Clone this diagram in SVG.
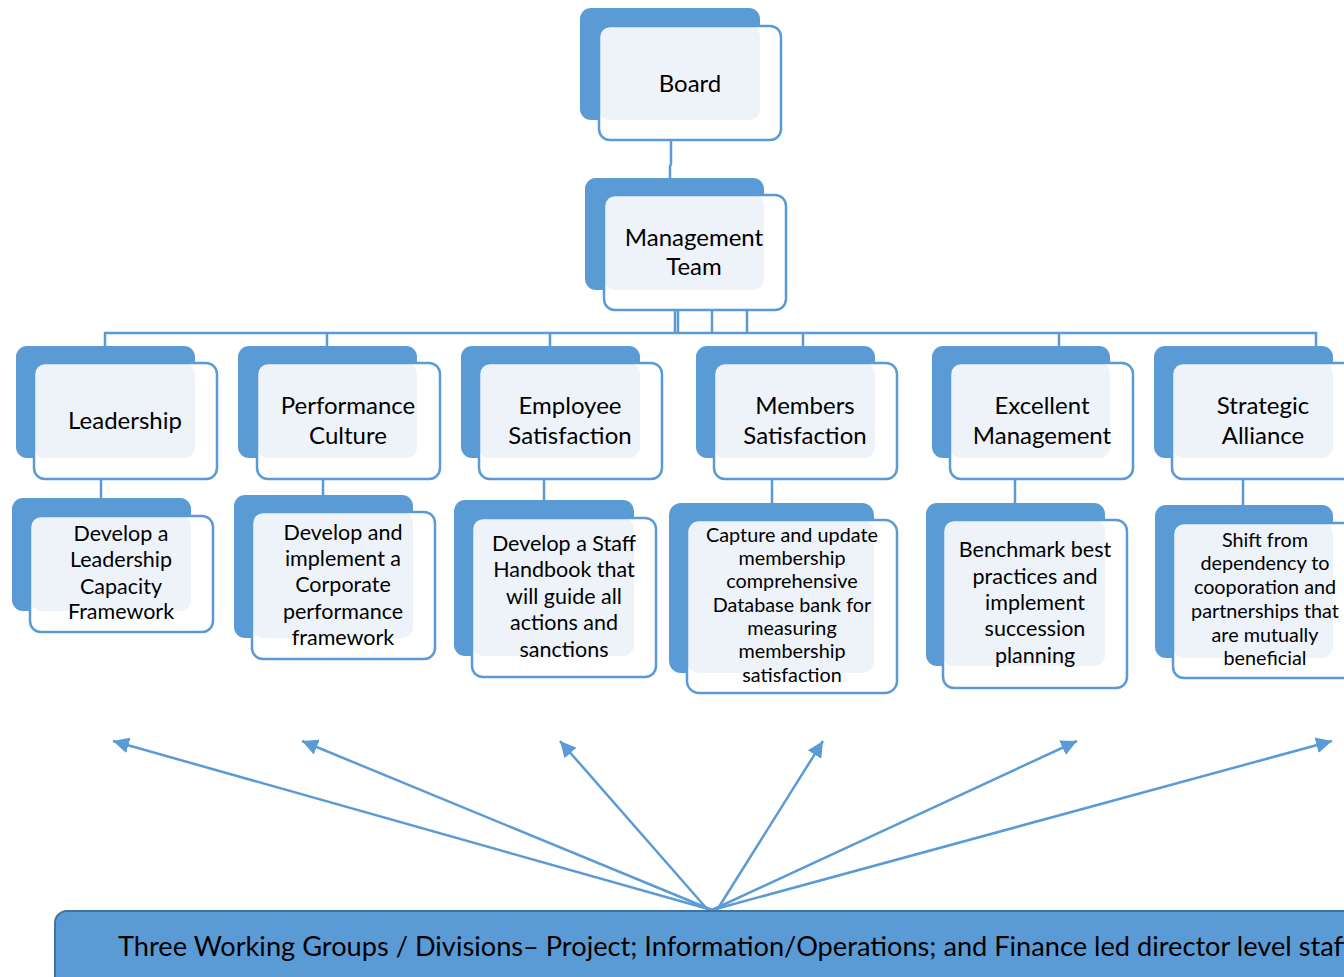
<svg xmlns="http://www.w3.org/2000/svg" width="1344" height="977" viewBox="0 0 1344 977">
<defs>
<style>
.back{fill:#5B9BD5}
.fbg{fill:#FFFFFF}
.lt{fill:#EEF3FA}
.fl{fill:none;stroke:#5B9BD5;stroke-width:2.5}
.t{font-family:Lato,"Open Sans",sans-serif;fill:#000;text-anchor:middle}
.l1{font-size:24px}
.l2{font-size:21.5px}
.l3{font-size:19.8px}
.cn{fill:none;stroke:#5B9BD5;stroke-width:2.5}
.fa{fill:none;stroke:#DCE6F2;stroke-width:2.5}
.ar{fill:none;stroke:#5B9BD5;stroke-width:2.5}
</style>
<marker id="ah" markerUnits="userSpaceOnUse" markerWidth="18" markerHeight="16" refX="16" refY="8" orient="auto">
<path d="M0,0 L16,8 L0,16 z" fill="#5B9BD5"/>
</marker>
</defs>
<rect width="1344" height="977" fill="#FFFFFF"/>

<g id="connectors">
<line class="fa" x1="671" y1="122" x2="671" y2="140"/>
<path class="cn" d="M671,140 V164 L670,166 V178"/>
<line class="fa" x1="675" y1="292" x2="675" y2="309"/>
<line class="fa" x1="678" y1="292" x2="678" y2="309"/>
<line class="fa" x1="712" y1="292" x2="712" y2="309"/>
<line class="fa" x1="747" y1="292" x2="747" y2="309"/>
<line class="cn" x1="675" y1="309" x2="675" y2="333"/>
<line class="cn" x1="678" y1="309" x2="678" y2="333"/>
<line class="cn" x1="712" y1="309" x2="712" y2="333"/>
<line class="cn" x1="747" y1="309" x2="747" y2="333"/>
<path class="cn" d="M105,346 V333 H1316 V346"/>
<line class="cn" x1="327" y1="333" x2="327" y2="346"/>
<line class="cn" x1="550" y1="333" x2="550" y2="346"/>
<line class="cn" x1="803" y1="333" x2="803" y2="346"/>
<line class="cn" x1="1059" y1="333" x2="1059" y2="346"/>
<line class="fa" x1="101" y1="460" x2="101" y2="478"/>
<line class="fa" x1="323" y1="460" x2="323" y2="478"/>
<line class="fa" x1="544" y1="460" x2="544" y2="478"/>
<line class="fa" x1="772" y1="460" x2="772" y2="478"/>
<line class="fa" x1="1015" y1="460" x2="1015" y2="478"/>
<line class="fa" x1="1243" y1="460" x2="1243" y2="478"/>
<line class="cn" x1="101" y1="478" x2="101" y2="498"/>
<line class="cn" x1="323" y1="478" x2="323" y2="495"/>
<line class="cn" x1="544" y1="478" x2="544" y2="500"/>
<line class="cn" x1="772" y1="478" x2="772" y2="503"/>
<line class="cn" x1="1015" y1="478" x2="1015" y2="503"/>
<line class="cn" x1="1243" y1="478" x2="1243" y2="505"/>
<line class="ar" x1="712" y1="910" x2="113" y2="741" marker-end="url(#ah)"/>
<line class="ar" x1="712" y1="910" x2="302" y2="741" marker-end="url(#ah)"/>
<line class="ar" x1="708" y1="910" x2="560" y2="741" marker-end="url(#ah)"/>
<line class="ar" x1="717" y1="910" x2="823" y2="741" marker-end="url(#ah)"/>
<line class="ar" x1="712" y1="910" x2="1077" y2="741" marker-end="url(#ah)"/>
<line class="ar" x1="712" y1="910" x2="1332" y2="741" marker-end="url(#ah)"/>
</g>

<g id="board">
<rect class="back" x="580" y="8" width="180" height="112" rx="11"/>
<rect class="fbg" x="599" y="26" width="182" height="114" rx="11"/>
<rect class="lt" x="599" y="26" width="161" height="94" rx="11"/>
<rect class="fl" x="599" y="26" width="182" height="114" rx="11"/>
<text class="t l1" x="690" y="92">Board</text>
</g>

<g id="management-team">
<rect class="back" x="585" y="178" width="179" height="112" rx="11"/>
<rect class="fbg" x="604" y="195" width="182" height="115" rx="11"/>
<rect class="lt" x="604" y="195" width="160" height="95" rx="11"/>
<rect class="fl" x="604" y="195" width="182" height="115" rx="11"/>
<text class="t l1" x="694" y="246">Management</text>
<text class="t l1" x="694" y="275">Team</text>
</g>

<g id="leadership">
<rect class="back" x="16" y="346" width="179" height="112" rx="11"/>
<rect class="fbg" x="34" y="363" width="183" height="116" rx="11"/>
<rect class="lt" x="34" y="363" width="161" height="95" rx="11"/>
<rect class="fl" x="34" y="363" width="183" height="116" rx="11"/>
<text class="t l1" x="125" y="429">Leadership</text>
</g>

<g id="performance-culture">
<rect class="back" x="238" y="346" width="179" height="112" rx="11"/>
<rect class="fbg" x="257" y="363" width="183" height="116" rx="11"/>
<rect class="lt" x="257" y="363" width="160" height="95" rx="11"/>
<rect class="fl" x="257" y="363" width="183" height="116" rx="11"/>
<text class="t l1" x="348" y="414">Performance</text>
<text class="t l1" x="348" y="444">Culture</text>
</g>

<g id="employee-satisfaction">
<rect class="back" x="461" y="346" width="179" height="112" rx="11"/>
<rect class="fbg" x="479" y="363" width="183" height="116" rx="11"/>
<rect class="lt" x="479" y="363" width="161" height="95" rx="11"/>
<rect class="fl" x="479" y="363" width="183" height="116" rx="11"/>
<text class="t l1" x="570" y="414">Employee</text>
<text class="t l1" x="570" y="444">Satisfaction</text>
</g>

<g id="members-satisfaction">
<rect class="back" x="696" y="346" width="179" height="112" rx="11"/>
<rect class="fbg" x="714" y="363" width="183" height="116" rx="11"/>
<rect class="lt" x="714" y="363" width="161" height="95" rx="11"/>
<rect class="fl" x="714" y="363" width="183" height="116" rx="11"/>
<text class="t l1" x="805" y="414">Members</text>
<text class="t l1" x="805" y="444">Satisfaction</text>
</g>

<g id="excellent-management">
<rect class="back" x="932" y="346" width="178" height="112" rx="11"/>
<rect class="fbg" x="950" y="363" width="183" height="116" rx="11"/>
<rect class="lt" x="950" y="363" width="160" height="95" rx="11"/>
<rect class="fl" x="950" y="363" width="183" height="116" rx="11"/>
<text class="t l1" x="1042" y="414">Excellent</text>
<text class="t l1" x="1042" y="444">Management</text>
</g>

<g id="strategic-alliance">
<rect class="back" x="1154" y="346" width="179" height="112" rx="11"/>
<rect class="fbg" x="1172" y="363" width="183" height="116" rx="11"/>
<rect class="lt" x="1172" y="363" width="161" height="95" rx="11"/>
<rect class="fl" x="1172" y="363" width="183" height="116" rx="11"/>
<text class="t l1" x="1263" y="414">Strategic</text>
<text class="t l1" x="1263" y="444">Alliance</text>
</g>

<g id="leadership-capacity">
<rect class="back" x="12" y="498" width="179" height="113" rx="11"/>
<rect class="fbg" x="30" y="516" width="183" height="116" rx="11"/>
<rect class="lt" x="30" y="516" width="161" height="95" rx="11"/>
<rect class="fl" x="30" y="516" width="183" height="116" rx="11"/>
<text class="t l2" x="121" y="541">Develop a</text>
<text class="t l2" x="121" y="567">Leadership</text>
<text class="t l2" x="121" y="594">Capacity</text>
<text class="t l2" x="121" y="619">Framework</text>
</g>

<g id="corporate-performance">
<rect class="back" x="234" y="495" width="179" height="143" rx="11"/>
<rect class="fbg" x="252" y="512" width="183" height="147" rx="11"/>
<rect class="lt" x="252" y="512" width="161" height="126" rx="11"/>
<rect class="fl" x="252" y="512" width="183" height="147" rx="11"/>
<text class="t l2" x="343" y="540">Develop and</text>
<text class="t l2" x="343" y="566">implement a</text>
<text class="t l2" x="343" y="592">Corporate</text>
<text class="t l2" x="343" y="619">performance</text>
<text class="t l2" x="343" y="645">framework</text>
</g>

<g id="staff-handbook">
<rect class="back" x="454" y="500" width="180" height="156" rx="11"/>
<rect class="fbg" x="472" y="518" width="184" height="159" rx="11"/>
<rect class="lt" x="472" y="518" width="162" height="138" rx="11"/>
<rect class="fl" x="472" y="518" width="184" height="159" rx="11"/>
<text class="t l2" x="564" y="551">Develop a Staff</text>
<text class="t l2" x="564" y="577">Handbook that</text>
<text class="t l2" x="564" y="604">will guide all</text>
<text class="t l2" x="564" y="630">actions and</text>
<text class="t l2" x="564" y="657">sanctions</text>
</g>

<g id="membership-database">
<rect class="back" x="669" y="503" width="205" height="170" rx="12"/>
<rect class="fbg" x="687" y="520" width="210" height="173" rx="12"/>
<rect class="lt" x="687" y="520" width="187" height="153" rx="12"/>
<rect class="fl" x="687" y="520" width="210" height="173" rx="12"/>
<text class="t l3" x="792" y="542">Capture and update</text>
<text class="t l3" x="792" y="565">membership</text>
<text class="t l3" x="792" y="588">comprehensive</text>
<text class="t l3" x="792" y="612">Database bank for</text>
<text class="t l3" x="792" y="635">measuring</text>
<text class="t l3" x="792" y="658">membership</text>
<text class="t l3" x="792" y="682">satisfaction</text>
</g>

<g id="benchmark">
<rect class="back" x="926" y="503" width="179" height="163" rx="11"/>
<rect class="fbg" x="943" y="520" width="184" height="168" rx="11"/>
<rect class="lt" x="943" y="520" width="162" height="146" rx="11"/>
<rect class="fl" x="943" y="520" width="184" height="168" rx="11"/>
<text class="t l2" x="1035" y="557">Benchmark best</text>
<text class="t l2" x="1035" y="584">practices and</text>
<text class="t l2" x="1035" y="610">implement</text>
<text class="t l2" x="1035" y="636">succession</text>
<text class="t l2" x="1035" y="663">planning</text>
</g>

<g id="shift-dependency">
<rect class="back" x="1155" y="505" width="178" height="153" rx="11"/>
<rect class="fbg" x="1173" y="523" width="183" height="155" rx="11"/>
<rect class="lt" x="1173" y="523" width="160" height="135" rx="11"/>
<rect class="fl" x="1173" y="523" width="183" height="155" rx="11"/>
<text class="t l3" x="1265" y="547">Shift from</text>
<text class="t l3" x="1265" y="570">dependency to</text>
<text class="t l3" x="1265" y="594">cooporation and</text>
<text class="t l3" x="1265" y="618">partnerships that</text>
<text class="t l3" x="1265" y="642">are mutually</text>
<text class="t l3" x="1265" y="665">beneficial</text>
</g>

<g id="working-groups">
<rect x="55" y="911" width="1330" height="90" rx="12" fill="#5B9BD5" stroke="#41719C" stroke-width="2"/>
<text x="118" y="956" font-family="Lato,'Open Sans',sans-serif" font-size="27.2" fill="#000">Three Working Groups / Divisions– Project; Information/Operations; and Finance led director level staff</text>
</g>
</svg>
